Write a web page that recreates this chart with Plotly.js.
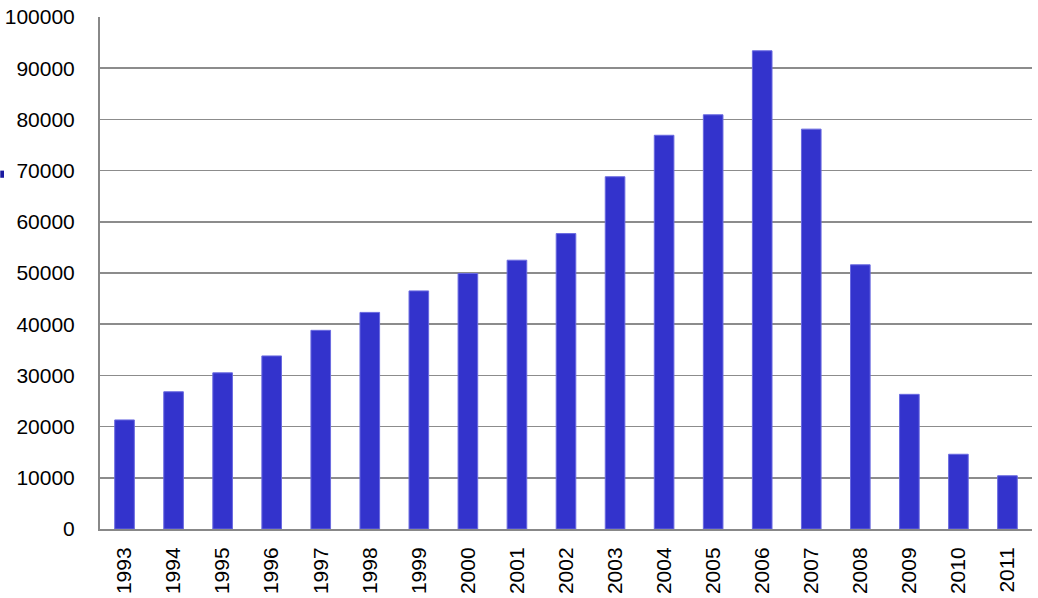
<!DOCTYPE html>
<html>
<head>
<meta charset="utf-8">
<script src="https://cdn.plot.ly/plotly-3.0.1.min.js"></script>
<style>
html,body{margin:0;padding:0;background:#fff;}
#chart{width:1038px;height:598px;}
</style>
</head>
<body>
<div id="chart"></div>
<script>
const years = ['1993','1994','1995','1996','1997','1998','1999','2000','2001','2002','2003','2004','2005','2006','2007','2008','2009','2010','2011'];
const values = [21300, 26800, 30500, 33800, 38800, 42300, 46500, 49900, 52500, 57700, 68800, 76900, 80900, 93400, 78100, 51600, 26300, 14600, 10400];
const yTicks = [0,10000,20000,30000,40000,50000,60000,70000,80000,90000,100000];

const trace = {
  type: 'bar',
  x: years,
  y: values,
  marker: {color: '#3333CC', line: {color: '#6a6ae0', width: 1}},
  hoverinfo: 'x+y'
};

const layout = {
  width: 1038, height: 598,
  margin: {l: 100, r: 6, t: 17, b: 69, pad: 0},
  paper_bgcolor: '#ffffff',
  plot_bgcolor: 'rgba(0,0,0,0)',
  bargap: 0.6,
  showlegend: false,
  font: {family: 'Arial, "Liberation Sans", sans-serif', size: 21, color: '#000'},
  xaxis: {
    type: 'category',
    tickangle: -90,
    showgrid: false,
    showline: true, linecolor: '#888888', linewidth: 2,
    ticks: '',
    ticklabelstandoff: 8,
    tickfont: {family: 'Arial, "Liberation Sans", sans-serif', size: 21, color: '#000'}
  },
  yaxis: {
    range: [0, 100000],
    tickvals: yTicks,
    ticktext: yTicks.map(String),
    showgrid: true, gridcolor: '#8c8c8c', gridwidth: 1.5,
    showline: true, linecolor: '#888888', linewidth: 2,
    zeroline: false,
    ticks: '',
    ticklabelstandoff: 19,
    tickfont: {family: 'Arial, "Liberation Sans", sans-serif', size: 21, color: '#000'}
  },
  shapes: [
    {type: 'rect', xref: 'paper', yref: 'paper', x0: -0.107, x1: -0.103, y0: 0.686, y1: 0.7, fillcolor: '#1a1aa0', line: {width: 0}}
  ]
};

Plotly.newPlot('chart', [trace], layout, {displayModeBar: false, staticPlot: true});
</script>
</body>
</html>
